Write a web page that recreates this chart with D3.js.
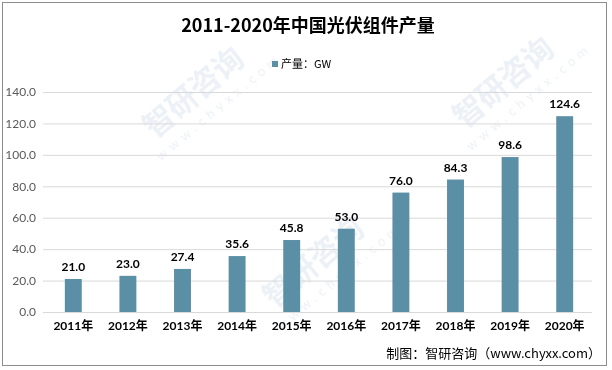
<!DOCTYPE html>
<html>
<head>
<meta charset="utf-8">
<script src="https://cdn.jsdelivr.net/npm/d3@7"></script>
<style>
html,body{margin:0;padding:0;background:#fff;}
svg{display:block;}
</style>
</head>
<body>
<svg id="chart" width="612" height="370"></svg>
<script>
const years = ["2011年","2012年","2013年","2014年","2015年","2016年","2017年","2018年","2019年","2020年"];
const output = [21.0, 23.0, 27.4, 35.6, 45.8, 53.0, 76.0, 84.3, 98.6, 124.6];
const yTicks = [0, 20, 40, 60, 80, 100, 120, 140];
const titleText = "2011-2020年中国光伏组件产量";
const legendText = "产量：GW";
const sourceText = "制图：智研咨询（www.chyxx.com）";

const svg = d3.select("#chart");
const W = 612, H = 370;
const numFont = "Lato, 'Noto Sans CJK SC', sans-serif";
const cjkFont = "'Noto Sans CJK SC', 'Noto Sans', sans-serif";

svg.append("rect").attr("width", W).attr("height", H).attr("fill", "#fff");

// watermarks
const wm = svg.append("g").attr("opacity", 0.1);
[[200, 100], [510, 90], [320, 270]].forEach(([x, y]) => {
  const g = wm.append("g").attr("transform", `translate(${x},${y}) rotate(-40)`);
  g.append("text").attr("x", 0).attr("y", 0).attr("text-anchor", "middle")
    .attr("font-family", cjkFont).attr("font-weight", "bold").attr("font-size", 30)
    .attr("fill", "#3a6ea5").text("智研咨询");
  g.append("text").attr("x", 10).attr("y", 22).attr("text-anchor", "middle")
    .attr("font-family", numFont).attr("font-size", 13).attr("letter-spacing", 5)
    .attr("fill", "#3a6ea5").text("www.chyxx.com");
});

const x = d3.scaleBand().domain(years).range([46, 592]).paddingInner(0.69).paddingOuter(0.345);
const y = d3.scaleLinear().domain([0, 140]).range([312, 92]);

// gridlines
const yAxis = d3.axisLeft(y).tickValues(yTicks).tickFormat(d3.format(".1f")).tickSize(-(592 - 43)).tickPadding(8);
const ga = svg.append("g").attr("transform", "translate(43,0)").call(yAxis);
ga.select(".domain").remove();
ga.selectAll(".tick line").attr("stroke", "#d9d9d9").attr("stroke-width", 1);
ga.selectAll(".tick text").attr("fill", "#595959").attr("font-family", numFont)
  .attr("font-size", 12).attr("x", -7);

// bars
svg.append("g").selectAll("rect").data(output).join("rect")
  .attr("x", (d, i) => x(years[i]))
  .attr("y", d => y(d))
  .attr("width", x.bandwidth())
  .attr("height", d => y(0) - y(d))
  .attr("fill", "#5b8fa6");

// data labels
svg.append("g").selectAll("text").data(output).join("text")
  .attr("x", (d, i) => x(years[i]) + x.bandwidth() / 2)
  .attr("y", d => y(d) - 8)
  .attr("text-anchor", "middle")
  .attr("font-family", numFont).attr("font-weight", "bold").attr("font-size", 12)
  .attr("fill", "#000").text(d => d3.format(".1f")(d));

// x axis labels
const xAxis = d3.axisBottom(x).tickSize(0).tickPadding(9);
const gx = svg.append("g").attr("transform", "translate(0,312)").call(xAxis);
gx.select(".domain").remove();
gx.selectAll(".tick text").attr("fill", "#000").attr("font-family", numFont)
  .attr("font-weight", "bold").attr("font-size", 12);

// title
svg.append("text").attr("x", 308).attr("y", 32).attr("text-anchor", "middle")
  .attr("font-family", cjkFont).attr("font-weight", "bold").attr("font-size", 18)
  .attr("fill", "#000").text(titleText);

// legend
svg.append("rect").attr("x", 272).attr("y", 61).attr("width", 6).attr("height", 6).attr("fill", "#5b8fa6");
svg.append("text").attr("x", 281).attr("y", 68).attr("font-family", cjkFont)
  .attr("font-size", 11).attr("fill", "#000").text(legendText);

// source
svg.append("text").attr("x", 601).attr("y", 358).attr("text-anchor", "end")
  .attr("font-family", cjkFont).attr("font-size", 13).attr("fill", "#000").text(sourceText);

// border
svg.append("rect").attr("x", 2.5).attr("y", 2.5).attr("width", 604).attr("height", 363)
  .attr("fill", "none").attr("stroke", "#8c8c8c").attr("stroke-width", 1);
</script>
</body>
</html>
